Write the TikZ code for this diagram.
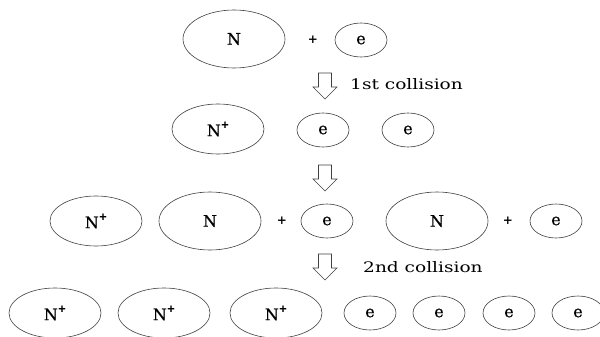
\documentclass[tikz,border=0pt]{standalone}
\usepackage{fontspec}
\setmainfont{DejaVu Serif}
\newfontfamily\widefont[FakeStretch=1.28]{DejaVu Serif}
\newfontfamily\labelfont[FakeBold=0.6]{DejaVu Serif}
\usetikzlibrary{shapes.geometric}
\newcommand{\ionsup}{\raisebox{1.0ex}{\fontsize{10}{10}\selectfont\bfseries +}}
\begin{document}
\begin{tikzpicture}[x=1pt,y=-1pt,
  ion/.style={ellipse, draw=black!75, line width=0.6pt, inner sep=0pt, font=\labelfont\fontsize{16}{16}\selectfont},
  big/.style={ion, minimum width=102pt, minimum height=58pt},
  mid/.style={ion, minimum width=92pt, minimum height=50pt},
  elec/.style={ion, minimum width=52pt, minimum height=34pt},
  plus/.style={font=\fontsize{12}{12}\selectfont\bfseries, inner sep=0pt},
  lbl/.style={font=\widefont\fontsize{14.5}{15}\selectfont, anchor=west, inner sep=0pt},
  blockarrow/.style={draw=black!75, line width=0.6pt, fill=white},
  downarrow/.pic={\draw[blockarrow] (-6.5,0) -- (6.5,0) -- (6.5,14) -- (12,14) -- (0,26) -- (-12,14) -- (-6.5,14) -- cycle;}]
\useasboundingbox (0,0) rectangle (600,337);
% row 1
\node[big] (n1) at (234,39) {N};
\node[plus] (p1) at (313,40) {+};
\node[elec] (e1) at (361,40) {e};
\pic (a1) at (325,73) {downarrow};
\node[lbl] (l1) at (350,84) {1st collision};
% row 2
\node[mid] (n2) at (218,129) {N\ionsup};
\node[elec] (e2) at (323,130) {e};
\node[elec] (e3) at (408,130) {e};
\pic (a2) at (325,165) {downarrow};
% row 3
\node[mid] (n3) at (96,221) {N\ionsup};
\node[big] (n4) at (210,221) {N};
\node[plus] (p2) at (282,221) {+};
\node[elec] (e4) at (327,221) {e};
\node[big] (n5) at (437,221) {N};
\node[plus] (p3) at (508,221) {+};
\node[elec] (e5) at (556,221) {e};
\pic (a3) at (325,254) {downarrow};
\node[lbl] (l2) at (363,267) {2nd collision};
% row 4
\node[mid] (n6) at (55,313) {N\ionsup};
\node[mid] (n7) at (164,313) {N\ionsup};
\node[mid] (n8) at (276,313) {N\ionsup};
\node[elec] (e6) at (370,313) {e};
\node[elec] (e7) at (439,313) {e};
\node[elec] (e8) at (509,313) {e};
\node[elec] (e9) at (578,313) {e};
\end{tikzpicture}
\end{document}
